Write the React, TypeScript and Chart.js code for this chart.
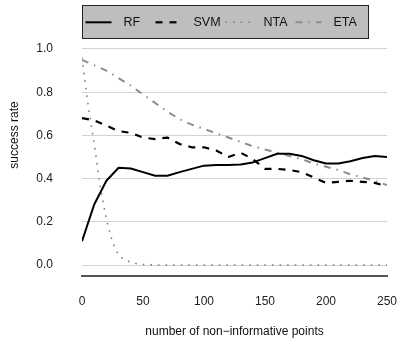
import React, { useEffect, useRef } from "react";
import { Chart, registerables } from "chart.js";

Chart.register(...registerables);

const seriesNames = ["RF", "SVM", "NTA", "ETA"];
const pointsAxis = [0, 10, 20, 30, 40, 50, 60, 70, 80, 90, 100, 110, 120, 130, 140, 150, 160, 170, 180, 190, 200, 210, 220, 230, 240, 250];
const rfRate = [0.11, 0.28, 0.39, 0.45, 0.447, 0.43, 0.413, 0.413, 0.43, 0.445, 0.46, 0.463, 0.463, 0.465, 0.475, 0.495, 0.515, 0.515, 0.505, 0.485, 0.47, 0.47, 0.48, 0.495, 0.505, 0.5];
const svmRate = [0.68, 0.67, 0.645, 0.62, 0.612, 0.59, 0.583, 0.59, 0.56, 0.545, 0.545, 0.53, 0.5, 0.52, 0.49, 0.445, 0.445, 0.44, 0.43, 0.405, 0.38, 0.385, 0.39, 0.385, 0.38, 0.365];
const etaRate = [0.95, 0.925, 0.9, 0.865, 0.83, 0.79, 0.75, 0.71, 0.675, 0.65, 0.63, 0.61, 0.59, 0.57, 0.55, 0.535, 0.52, 0.505, 0.49, 0.47, 0.455, 0.44, 0.42, 0.405, 0.39, 0.37];
const ntaPoints = [0, 5, 10, 15, 20, 25, 30, 35, 40, 45, 50, 60, 70, 80, 90, 100, 110, 120, 130, 140, 150, 160, 170, 180, 190, 200, 210, 220, 230, 240, 250];
const ntaRate = [0.96, 0.74, 0.56, 0.36, 0.21, 0.105, 0.045, 0.024, 0.013, 0.006, 0.002, 0, 0, 0, 0, 0, 0, 0, 0, 0, 0, 0, 0, 0, 0, 0, 0, 0, 0, 0, 0];
const xTickValues = [0, 50, 100, 150, 200, 250];
const yTickValues = [0, 0.2, 0.4, 0.6, 0.8, 1.0];
const xLabel = "number of non\u2212informative points";
const yLabel = "success rate";
const xRange = [0, 250];
const yRange = [-0.0509, 1.2546];

const FONT = '"Liberation Sans", Arial, Helvetica, sans-serif';

const pairs = (xs: number[], ys: number[]) => xs.map((x, i) => ({ x, y: ys[i] }));

const boxLegend = {
  id: "boxLegend",
  afterDraw(chart: any) {
    const { ctx, chartArea } = chart;
    const boxLeft = chartArea.left + 0.5;
    const boxTop = chartArea.top + 11.5;
    const boxW = 286;
    const boxH = 33;
    ctx.save();
    ctx.setLineDash([]);
    ctx.fillStyle = "#bebebe";
    ctx.fillRect(boxLeft, boxTop, boxW, boxH);
    ctx.lineWidth = 1;
    ctx.strokeStyle = "#222";
    ctx.strokeRect(boxLeft, boxTop, boxW, boxH);
    const cy = boxTop + 16.8;
    chart.data.datasets.forEach((ds: any, i: number) => {
      const x0 = boxLeft + 3 + i * 70;
      ctx.beginPath();
      ctx.setLineDash(ds.borderDash || []);
      ctx.lineWidth = ds.borderWidth;
      ctx.strokeStyle = ds.borderColor;
      ctx.lineCap = "butt";
      ctx.moveTo(x0, cy);
      ctx.lineTo(x0 + 26, cy);
      ctx.stroke();
      ctx.setLineDash([]);
      ctx.fillStyle = "#111";
      ctx.font = `12.5px ${FONT}`;
      ctx.textBaseline = "middle";
      ctx.textAlign = "left";
      ctx.fillText(ds.label, x0 + 38, cy + 0.5);
    });
    ctx.restore();
  },
};

export default function App() {
  const ref = useRef<HTMLCanvasElement>(null);

  useEffect(() => {
    const canvas = ref.current;
    if (!canvas) return;
    const lineCommon = {
      fill: false,
      pointRadius: 0,
      pointHoverRadius: 0,
      tension: 0,
      borderCapStyle: "butt",
      borderJoinStyle: "round",
    };
    const chart = new Chart(canvas, {
      type: "line",
      data: {
        datasets: [
          { ...lineCommon, label: seriesNames[0], data: pairs(pointsAxis, rfRate), borderColor: "#000", borderWidth: 2, borderDash: [] },
          { ...lineCommon, label: seriesNames[1], data: pairs(pointsAxis, svmRate), borderColor: "#000", borderWidth: 2.2, borderDash: [7, 7] },
          { ...lineCommon, label: seriesNames[2], data: pairs(ntaPoints, ntaRate), borderColor: "#808080", borderWidth: 1.6, borderDash: [1.6, 6] },
          { ...lineCommon, label: seriesNames[3], data: pairs(pointsAxis, etaRate), borderColor: "#8c8c8c", borderWidth: 2, borderDash: [7, 6, 1.5, 6] },
        ] as any,
      },
      options: {
        animation: false,
        responsive: false,
        maintainAspectRatio: false,
        events: [],
        layout: { padding: { top: 8, right: 11, left: 0, bottom: 0 } },
        plugins: { legend: { display: false }, tooltip: { enabled: false } },
        scales: {
          x: {
            type: "linear",
            min: xRange[0],
            max: xRange[1],
            afterBuildTicks: (s: any) => {
              s.ticks = xTickValues.map((v) => ({ value: v }));
            },
            afterFit: (s: any) => {
              s.height = 64;
            },
            grid: { display: false, drawTicks: true, tickLength: 18 },
            border: { display: true, color: "#555", width: 2 },
            ticks: { padding: 0, color: "#222", font: { size: 12, family: FONT }, maxRotation: 0 },
            title: { display: true, text: xLabel, color: "#111", font: { size: 12, family: FONT }, padding: { top: 0, bottom: 1 } },
          },
          y: {
            type: "linear",
            min: yRange[0],
            max: yRange[1],
            afterBuildTicks: (s: any) => {
              s.ticks = yTickValues.map((v) => ({ value: v }));
            },
            afterFit: (s: any) => {
              s.width = 82;
            },
            grid: { color: "#d3d3d3", lineWidth: 1, drawTicks: true, tickLength: 29, tickColor: "rgba(0,0,0,0)" },
            border: { display: false },
            ticks: { padding: 0, color: "#222", font: { size: 12, family: FONT }, callback: (v: any) => Number(v).toFixed(1) },
            title: { display: true, text: yLabel, color: "#111", font: { size: 12, family: FONT }, padding: { top: 7, bottom: 0 } },
          },
        },
      } as any,
      plugins: [boxLegend],
    });
    return () => chart.destroy();
  }, []);

  return (
    <div style={{ position: "fixed", left: 0, top: -14, width: 398, height: 354 }}>
      <canvas ref={ref} width={398} height={354} style={{ display: "block", width: 398, height: 354 }} />
    </div>
  );
}
